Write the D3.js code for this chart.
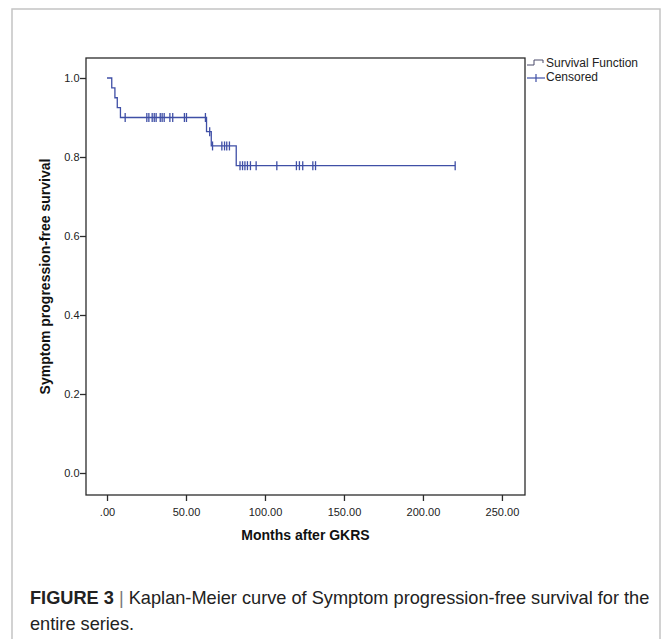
<!DOCTYPE html>
<html>
<head>
<meta charset="utf-8">
<script src="https://cdn.jsdelivr.net/npm/d3@7/dist/d3.min.js"></script>
<style>
  html, body { margin: 0; padding: 0; background: #fff; }
  svg { display: block; }
</style>
</head>
<body>
<svg id="chart" width="663" height="639"></svg>
<script>
// ---- data ----
// event times (months) where the survival function steps down, and the level after each step
const eventTimes = [0, 3, 5, 6.5, 8.5, 63, 66, 81.8];
const survivalLevels = [1.0, 0.975, 0.95, 0.925, 0.9, 0.864, 0.828, 0.778];
const lastTime = 220.4;
// censored observation times (months)
const censorTimes = [11.5, 25.2, 26.5, 28.6, 29.9, 31.1, 33.7, 34.9, 36.2, 39.8, 41.6, 49.0, 50.3, 62.3,
  65.0, 66.8, 72.7, 74.4, 75.8, 77.5,
  84.2, 85.8, 87.3, 88.9, 90.8, 94.4, 107.5, 119.9, 121.8, 123.9, 130.3, 132.0, 220.4];
const xTicks = [0, 50, 100, 150, 200, 250];
const xTickLabels = [".00", "50.00", "100.00", "150.00", "200.00", "250.00"];
const yTicks = [0.0, 0.2, 0.4, 0.6, 0.8, 1.0];
const yTickLabels = ["0.0", "0.2", "0.4", "0.6", "0.8", "1.0"];
const legendLabels = ["Survival Function", "Censored"];
const xTitle = "Months after GKRS";
const yTitle = "Symptom progression-free survival";

// ---- layout ----
const svg = d3.select("#chart");
const plot = { left: 86, right: 525, top: 58, bottom: 495 };
const curveColor = "#3f4fa6";
const axisColor = "#2b2b2b";

// figure frame
svg.append("path")
  .attr("d", "M12,639 L12,9 L660,9 L660,639")
  .attr("fill", "none").attr("stroke", "#c4c4c4").attr("stroke-width", 1.5);

const x = d3.scaleLinear().domain([-13.3, 264.6]).range([plot.left, plot.right]);
const y = d3.scaleLinear().domain([0, 1]).range([473, 78]);

// plot frame
svg.append("rect")
  .attr("x", plot.left).attr("y", plot.top)
  .attr("width", plot.right - plot.left).attr("height", plot.bottom - plot.top)
  .attr("fill", "none").attr("stroke", axisColor).attr("stroke-width", 1.3);

// axes
const xAxis = d3.axisBottom(x).tickValues(xTicks)
  .tickFormat((d, i) => xTickLabels[i]).tickSize(6).tickSizeOuter(0);
const gx = svg.append("g").attr("transform", `translate(0,${plot.bottom})`).call(xAxis);
gx.select(".domain").remove();
gx.selectAll("line").attr("stroke", axisColor).attr("stroke-width", 1.3);
gx.selectAll("text").attr("font-family", "Liberation Sans, Arial, sans-serif")
  .attr("font-size", 11).attr("fill", "#222").attr("dy", "1.05em");

const yAxis = d3.axisLeft(y).tickValues(yTicks)
  .tickFormat((d, i) => yTickLabels[i]).tickSize(6).tickSizeOuter(0);
const gy = svg.append("g").attr("transform", `translate(${plot.left},0)`).call(yAxis);
gy.select(".domain").remove();
gy.selectAll("line").attr("stroke", axisColor).attr("stroke-width", 1.3);
gy.selectAll("text").attr("font-family", "Liberation Sans, Arial, sans-serif")
  .attr("font-size", 11).attr("fill", "#222").attr("x", -6.5);

// titles
svg.append("text").attr("x", (plot.left + plot.right) / 2).attr("y", 540)
  .attr("text-anchor", "middle").attr("font-family", "Liberation Sans, Arial, sans-serif")
  .attr("font-weight", "bold").attr("font-size", 14).attr("fill", "#111").text(xTitle);
svg.append("text").attr("transform", `translate(50,${(plot.top + plot.bottom) / 2}) rotate(-90)`)
  .attr("text-anchor", "middle").attr("font-family", "Liberation Sans, Arial, sans-serif")
  .attr("font-weight", "bold").attr("font-size", 14).attr("fill", "#111").text(yTitle);

// survival step curve
const stepData = eventTimes.map((t, i) => [t, survivalLevels[i]]);
stepData.push([lastTime, survivalLevels[survivalLevels.length - 1]]);
const line = d3.line().x(d => x(d[0])).y(d => y(d[1])).curve(d3.curveStepAfter);
svg.append("path").datum(stepData).attr("d", line)
  .attr("fill", "none").attr("stroke", curveColor).attr("stroke-width", 1.3);

// censor marks
function survAt(t) {
  let s = survivalLevels[0];
  for (let i = 0; i < eventTimes.length; i++) if (eventTimes[i] <= t) s = survivalLevels[i];
  return s;
}
const cg = svg.append("g").attr("stroke", curveColor).attr("stroke-width", 1.3);
censorTimes.forEach(t => {
  const cx = x(t), cy = y(survAt(t));
  cg.append("line").attr("x1", cx).attr("x2", cx).attr("y1", cy - 4.5).attr("y2", cy + 4.5);
});

// legend
const lg = svg.append("g");
const lx = 527;
lg.append("path").attr("d", `M${lx},${65} L${lx + 7},${65} L${lx + 7},${60} L${lx + 16},${60} L${lx + 16},${63}`)
  .attr("fill", "none").attr("stroke", "#4a4a6a").attr("stroke-width", 1);
lg.append("line").attr("x1", lx).attr("x2", lx + 18).attr("y1", 78).attr("y2", 78)
  .attr("stroke", curveColor).attr("stroke-width", 1.2);
lg.append("line").attr("x1", lx + 9).attr("x2", lx + 9).attr("y1", 74).attr("y2", 82)
  .attr("stroke", curveColor).attr("stroke-width", 1.2);
lg.selectAll("text.leg").data(legendLabels).enter().append("text")
  .attr("x", lx + 19).attr("y", (d, i) => 67 + i * 14)
  .attr("font-family", "Liberation Sans, Arial, sans-serif").attr("font-size", 12)
  .attr("fill", "#222").text(d => d);

// caption
const cap = svg.append("text").attr("x", 30).attr("y", 604)
  .attr("font-family", "Liberation Sans, Arial, sans-serif")
  .attr("font-size", 18.2).attr("fill", "#222");
cap.append("tspan").attr("font-weight", "bold").text("FIGURE 3");
cap.append("tspan").attr("fill", "#777").text(" | ");
cap.append("tspan").text("Kaplan-Meier curve of Symptom progression-free survival for the");
svg.append("text").attr("x", 30).attr("y", 630)
  .attr("font-family", "Liberation Sans, Arial, sans-serif")
  .attr("font-size", 18.2).attr("fill", "#222").text("entire series.");
</script>
</body>
</html>
